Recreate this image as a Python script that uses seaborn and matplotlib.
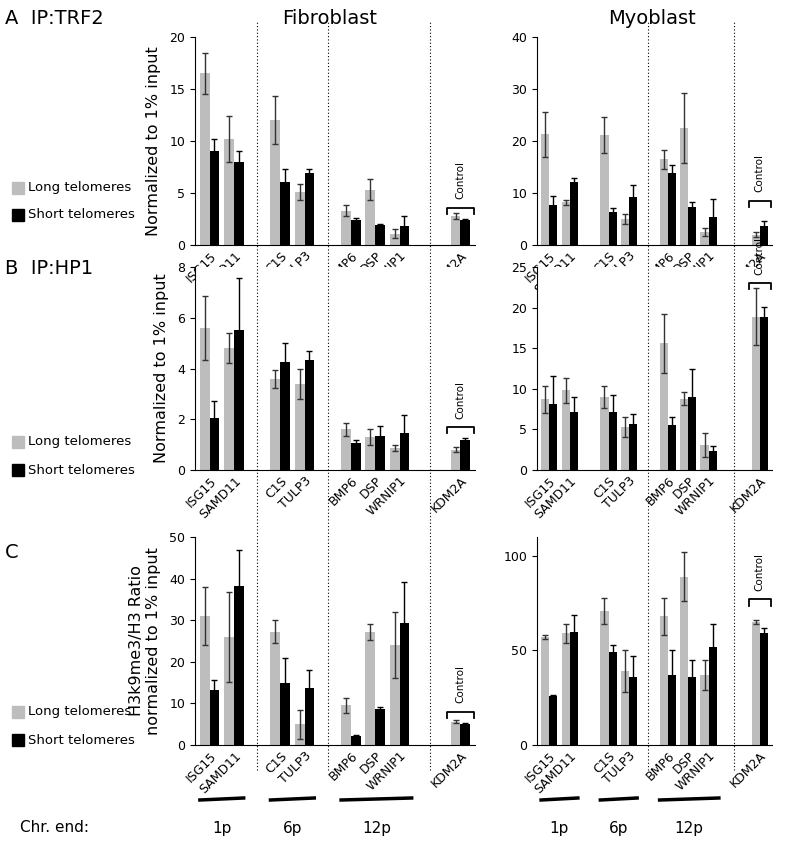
import matplotlib
matplotlib.use("Agg")
import matplotlib.pyplot as plt
import seaborn as sns
import pandas as pd
import numpy as np
from matplotlib.lines import Line2D
from matplotlib.patches import Rectangle

genes = ["ISG15", "SAMD11", "C1S", "TULP3", "BMP6", "DSP", "WRNIP1", "KDM2A"]
gene_pos = [0, 1, 2.9, 3.9, 5.8, 6.8, 7.8, 10.3]
series = ["Long telomeres", "Short telomeres"]

a_fib_long = [16.5, 10.2, 12.0, 5.1, 3.3, 5.3, 1.1, 2.8]
a_fib_long_err = [2.0, 2.2, 2.3, 0.8, 0.5, 1.0, 0.4, 0.3]
a_fib_short = [9.0, 8.0, 6.1, 6.9, 2.4, 1.9, 1.8, 2.4]
a_fib_short_err = [1.2, 1.0, 1.2, 0.4, 0.2, 0.1, 1.0, 0.1]
a_myo_long = [21.3, 8.2, 21.2, 5.0, 16.5, 22.5, 2.5, 2.0]
a_myo_long_err = [4.3, 0.5, 3.5, 1.0, 1.8, 6.7, 0.8, 0.5]
a_myo_short = [7.7, 12.2, 6.4, 9.3, 13.8, 7.3, 5.3, 3.7]
a_myo_short_err = [1.8, 0.7, 0.8, 2.3, 1.5, 0.9, 3.5, 0.9]

b_fib_long = [5.6, 4.8, 3.6, 3.4, 1.6, 1.3, 0.85, 0.8]
b_fib_long_err = [1.25, 0.6, 0.35, 0.6, 0.25, 0.3, 0.12, 0.1]
b_fib_short = [2.05, 5.5, 4.25, 4.35, 1.05, 1.35, 1.45, 1.2]
b_fib_short_err = [0.65, 2.05, 0.75, 0.35, 0.15, 0.4, 0.7, 0.08]
b_myo_long = [8.7, 9.8, 9.0, 5.3, 15.6, 8.8, 3.1, 18.9]
b_myo_long_err = [1.7, 1.5, 1.4, 1.2, 3.6, 0.8, 1.5, 3.5]
b_myo_short = [8.1, 7.2, 7.2, 5.7, 5.5, 9.0, 2.3, 18.9]
b_myo_short_err = [3.5, 1.8, 2.0, 1.2, 1.0, 3.5, 0.7, 1.2]

c_fib_long = [31, 26, 27.2, 5, 9.5, 27.2, 24, 5.6]
c_fib_long_err = [7, 10.8, 2.8, 3.5, 1.8, 2, 8, 0.3]
c_fib_short = [13.3, 38.2, 15, 13.6, 2.2, 8.6, 29.3, 5.1]
c_fib_short_err = [2.3, 8.7, 6, 4.5, 0.2, 0.5, 10, 0.2]
c_myo_long = [57, 59, 71, 39, 68, 89, 37, 65]
c_myo_long_err = [1, 5, 7, 11, 10, 13, 8, 1]
c_myo_short = [26, 60, 49, 36, 37, 36, 52, 59]
c_myo_short_err = [0.5, 9, 4, 11, 13, 9, 12, 3]

colors = {"Long telomeres": "#bdbdbd", "Short telomeres": "#000000"}
W, H = 811, 866
fig = plt.figure(figsize=(W / 100, H / 100), dpi=100)
plt.rcParams["font.family"] = "DejaVu Sans"

def px_axes(x0, y0, x1, y1):
    return fig.add_axes([x0 / W, 1 - y1 / H, (x1 - x0) / W, (y1 - y0) / H])

panels = [
    (a_fib_long, a_fib_long_err, a_fib_short, a_fib_short_err, (195, 37, 475, 245), (0, 20), [0, 5, 10, 15, 20], 3.6),
    (a_myo_long, a_myo_long_err, a_myo_short, a_myo_short_err, (537, 37, 772, 245), (0, 40), [0, 10, 20, 30, 40], 8.5),
    (b_fib_long, b_fib_long_err, b_fib_short, b_fib_short_err, (195, 267, 475, 470), (0, 8), [0, 2, 4, 6, 8], 1.7),
    (b_myo_long, b_myo_long_err, b_myo_short, b_myo_short_err, (537, 267, 772, 470), (0, 25), [0, 5, 10, 15, 20, 25], 23.0),
    (c_fib_long, c_fib_long_err, c_fib_short, c_fib_short_err, (195, 537, 475, 745), (0, 50), [0, 10, 20, 30, 40, 50], 8.0),
    (c_myo_long, c_myo_long_err, c_myo_short, c_myo_short_err, (537, 537, 772, 745), (0, 110), [0, 50, 100], 77),
]
axes = []
for i, (lv, le, sv, se, box, ylim, yt, ctl) in enumerate(panels):
    ax = px_axes(*box)
    axes.append(ax)
    df = pd.DataFrame({
        "pos": gene_pos * 2,
        "val": lv + sv,
        "err": le + se,
        "series": [series[0]] * 8 + [series[1]] * 8,
    })
    sns.barplot(data=df, x="pos", y="val", hue="series", native_scale=True,
                palette=colors, errorbar=None, ax=ax, width=0.8, legend=False,
                hue_order=series)
    n = len(gene_pos)
    patches = [p for p in ax.patches if p.get_width() > 0][:2 * n]
    for j, p in enumerate(patches):
        cx = p.get_x() + p.get_width() / 2
        ax.errorbar(cx, df["val"][j], yerr=df["err"][j], color="black" if j >= n else "#333333",
                    capsize=2, lw=1, capthick=1)
    ax.set_xlim(-0.6, 10.9)
    ax.set_ylim(*ylim)
    ax.set_yticks(yt)
    ax.set_xticks(gene_pos)
    ax.set_xticklabels(genes, rotation=45, ha="right", rotation_mode="anchor", fontsize=9)
    ax.tick_params(axis="y", labelsize=9)
    ax.tick_params(axis="x", length=0, pad=3)
    ax.set_xlabel("")
    ax.set_ylabel("")
    sns.despine(ax=ax)
    k = gene_pos[-1]
    ax.plot([k - 0.55, k - 0.55, k + 0.55, k + 0.55], [ctl - ylim[1] * 0.03, ctl, ctl, ctl - ylim[1] * 0.03],
            color="black", lw=1.3, clip_on=False)
    ax.text(k, ctl + ylim[1] * 0.04, "Control", rotation=90, ha="center", va="bottom", fontsize=7.5)

for a in (axes[0], axes[2]):
    a.set_ylabel("Normalized to 1% input", fontsize=11.5, labelpad=6)
axes[4].set_ylabel("H3k9me3/H3 Ratio\nnormalized to 1% input", fontsize=11.5, labelpad=6)

fig.text(330 / W, 1 - 18 / H, "Fibroblast", ha="center", va="center", fontsize=14)
fig.text(652 / W, 1 - 18 / H, "Myoblast", ha="center", va="center", fontsize=14)
fig.text(5 / W, 1 - 18 / H, "A  IP:TRF2", fontsize=14, va="center")
fig.text(5 / W, 1 - 268 / H, "B  IP:HP1", fontsize=14, va="center")
fig.text(5 / W, 1 - 553 / H, "C", fontsize=14, va="center")

for yl in [(188, 215), (442, 470), (712, 740)]:
    for yy, s in zip(yl, series):
        fig.patches.append(Rectangle((12 / W, 1 - (yy + 6) / H), 12 / W, 12 / H,
                                     transform=fig.transFigure, color=colors[s]))
        fig.text(28 / W, 1 - yy / H, s, fontsize=9.5, va="center")

def fig_x(ax, x):
    return fig.transFigure.inverted().transform(ax.transData.transform((x, 0)))[0]

for ax, gaps in [(axes[0], [(1 + 2.9) / 2, (3.9 + 5.8) / 2, (7.8 + 10.3) / 2]),
                 (axes[1], [(3.9 + 5.8) / 2, (7.8 + 10.3) / 2])]:
    for g in gaps:
        fx = fig_x(ax, g)
        fig.add_artist(Line2D([fx, fx], [1 - 770 / H, 1 - 22 / H], transform=fig.transFigure,
                              color="black", lw=0.8, linestyle=(0, (1, 2))))

fig.text(20 / W, 1 - 828 / H, "Chr. end:", fontsize=11, va="center")
for ax in (axes[4], axes[5]):
    for (a, b, lab) in [(-0.4, 1.4, "1p"), (2.5, 4.3, "6p"), (5.4, 8.3, "12p")]:
        xa, xb = fig_x(ax, a), fig_x(ax, b)
        fig.add_artist(Line2D([xa, xb], [1 - 800 / H, 1 - 798 / H], transform=fig.transFigure,
                              color="black", lw=2.5))
        fig.text((xa + xb) / 2, 1 - 828 / H, lab, ha="center", va="center", fontsize=11)

fig.savefig("out.png", dpi=100)
